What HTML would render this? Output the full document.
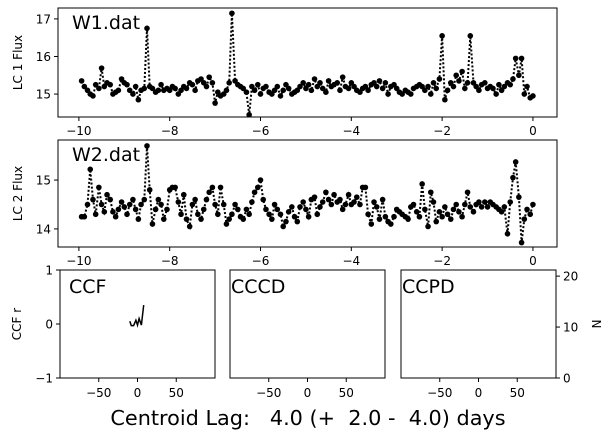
<!DOCTYPE html>
<html><head><meta charset="utf-8">
<style>
body{margin:0;background:#fff;}
svg{display:block;font-family:"DejaVu Sans","Liberation Sans",sans-serif;}
</style></head>
<body>
<svg id="chart" width="612" height="438" viewBox="0 0 612 438" xmlns="http://www.w3.org/2000/svg">
<rect width="612" height="438" fill="#fff"/>
</svg>
<script>
const times = [
-9.94,-9.88,-9.81,-9.75,-9.69,-9.63,-9.56,-9.50,-9.44,-9.38,-9.31,-9.25,-9.19,-9.13,-9.06,-9.00,
-8.94,-8.88,-8.81,-8.75,-8.69,-8.63,-8.56,-8.50,-8.44,-8.38,-8.31,-8.25,-8.19,-8.13,-8.06,-8.00,
-7.94,-7.88,-7.81,-7.75,-7.69,-7.63,-7.56,-7.50,-7.44,-7.38,-7.31,-7.25,-7.19,-7.13,-7.06,-7.00,
-6.94,-6.88,-6.81,-6.75,-6.69,-6.63,-6.56,-6.50,-6.44,-6.38,-6.31,-6.25,-6.19,-6.13,-6.06,-6.00,
-5.94,-5.88,-5.81,-5.75,-5.69,-5.63,-5.56,-5.50,-5.44,-5.38,-5.31,-5.25,-5.19,-5.13,-5.06,-5.00,
-4.94,-4.88,-4.81,-4.75,-4.69,-4.63,-4.56,-4.50,-4.44,-4.38,-4.31,-4.25,-4.19,-4.13,-4.06,-4.00,
-3.94,-3.88,-3.81,-3.75,-3.69,-3.63,-3.56,-3.50,-3.44,-3.38,-3.31,-3.25,-3.19,-3.13,-3.06,-3.00,
-2.94,-2.88,-2.81,-2.75,-2.69,-2.63,-2.56,-2.50,-2.44,-2.38,-2.31,-2.25,-2.19,-2.13,-2.06,-2.00,
-1.94,-1.88,-1.81,-1.75,-1.69,-1.63,-1.56,-1.50,-1.44,-1.38,-1.31,-1.25,-1.19,-1.13,-1.06,-1.00,
-0.94,-0.88,-0.81,-0.75,-0.69,-0.63,-0.56,-0.50,-0.44,-0.38,-0.31,-0.25,-0.19,-0.13,-0.06,0.00];
const flux1 = [
15.35,15.2,15.1,15.0,14.95,15.25,15.15,15.69,15.2,15.3,15.25,15.0,15.05,15.1,15.4,15.3,
15.25,15.1,15.0,15.2,14.85,15.1,15.15,16.75,15.2,15.15,15.05,15.1,15.25,15.1,15.15,15.1,
15.2,15.15,15.0,15.1,15.2,15.15,15.3,15.25,15.1,15.35,15.4,15.3,15.2,15.45,15.3,14.76,
15.05,14.95,15.0,15.1,15.3,17.15,15.35,15.25,15.2,15.15,15.05,14.45,15.2,15.1,15.25,15.0,
15.15,15.2,15.05,15.0,15.1,15.2,14.95,15.1,15.25,15.15,15.0,15.05,15.1,15.2,15.3,15.15,
15.25,15.1,15.4,15.2,15.3,15.15,15.05,15.35,15.2,15.25,15.3,15.1,15.45,15.2,15.15,15.3,
15.2,15.1,15.05,15.15,15.2,15.1,15.25,15.3,15.2,15.35,15.15,15.3,15.0,15.2,15.25,15.15,
15.05,15.0,15.1,15.05,15.0,15.15,15.2,15.25,15.2,15.1,15.2,15.0,15.3,15.15,15.4,16.55,
14.85,15.1,15.3,15.2,15.5,15.35,15.6,15.15,15.3,16.55,15.3,15.2,15.1,15.25,15.3,15.15,
15.2,15.15,15.0,15.25,15.1,15.2,15.3,15.25,15.4,15.95,15.5,15.95,15.0,15.2,14.9,14.95];
const flux2 = [
14.25,14.25,14.5,15.22,14.6,14.3,14.85,14.5,14.35,14.7,14.6,14.35,14.25,14.4,14.55,14.45,
14.3,14.5,14.6,14.4,14.2,14.5,14.6,15.7,14.8,14.1,14.4,14.6,14.5,14.2,14.4,14.8,
14.85,14.85,14.55,14.3,14.7,14.2,14.05,14.5,14.6,14.3,14.2,14.4,14.6,14.75,14.85,14.5,
14.3,14.85,14.5,14.1,14.2,14.3,14.5,14.4,14.25,14.2,14.4,14.3,14.55,14.75,14.85,15.0,
14.6,14.4,14.3,14.2,14.5,14.4,14.3,14.05,14.15,14.35,14.45,14.25,14.15,14.45,14.55,14.4,
14.25,14.6,14.65,14.3,14.45,14.55,14.75,14.6,14.5,14.7,14.55,14.6,14.4,14.5,14.7,14.5,
14.55,14.65,14.5,14.85,14.85,14.3,14.1,14.55,14.45,14.2,14.6,14.25,14.15,14.1,14.25,14.4,
14.35,14.3,14.25,14.2,14.45,14.5,14.35,14.25,14.92,14.4,14.05,14.75,14.55,14.15,14.35,14.25,
14.45,14.3,14.2,14.4,14.5,14.35,14.25,14.5,14.75,14.45,14.35,14.5,14.55,14.45,14.55,14.45,
14.55,14.5,14.45,14.4,14.35,14.45,13.9,14.55,15.05,15.37,14.65,13.72,14.2,14.4,14.3,14.5];
const timeTicks = [-10,-8,-6,-4,-2,0];
const flux1Ticks = [15,16,17];
const flux2Ticks = [14,15];
const ccfLags = [-10,-8,-5,-2,0,2,5,8];
const ccfR = [0.05,-0.03,-0.03,0.07,-0.02,0.1,-0.02,0.35];
const lagTicks = [-50,0,50];
const ccfTicks = [1,0,-1];
const nTicks = [0,10,20];

const NS='http://www.w3.org/2000/svg';
const svg=document.getElementById('chart');
function mk(tag,attrs,parent){const e=document.createElementNS(NS,tag);for(const k in attrs)e.setAttribute(k,attrs[k]);(parent||svg).appendChild(e);return e;}
function lin(d0,d1,r0,r1){return v=>r0+(v-d0)*(r1-r0)/(d1-d0);}
function fmt(v){return v<0?'\u2212'+Math.abs(v):String(v);}

function lcPanel(name,top,bot,ymin,ymax,flux,yt,ylab,title){
  const L=58,R=557;
  const g=mk('g',{});
  
  
  const x=lin(-10.46,0.53,L,R), y=lin(ymin,ymax,bot,top);
  let d='';
  times.forEach((t,i)=>{d+=(i?'L':'M')+x(t).toFixed(1)+' '+y(flux[i]).toFixed(1);});
  const ln=mk('path',{d:d,fill:'none',stroke:'#000','stroke-width':2,'stroke-dasharray':'2,2'},g);
  
  
  times.forEach((t,i)=>{
    const c=mk('circle',{cx:x(t),cy:y(flux[i]),r:2.8,fill:'#000'},g);
    
    
  });
  const fr=mk('rect',{x:L,y:top,width:R-L,height:bot-top,fill:'none',stroke:'#000','stroke-width':1},g);
  
  
  timeTicks.forEach(v=>{
    mk('line',{x1:x(v),x2:x(v),y1:bot,y2:bot+4,stroke:'#000'},g);
    const t=mk('text',{x:x(v),y:bot+18,'font-size':12,'text-anchor':'middle'},g);
    t.textContent=fmt(v);
    
    
  });
  yt.forEach(v=>{
    mk('line',{x1:L-4,x2:L,y1:y(v),y2:y(v),stroke:'#000'},g);
    const t=mk('text',{x:L-7,y:y(v)+4.5,'font-size':12,'text-anchor':'end'},g);
    t.textContent=v;
    
    
  });
  const yl=mk('text',{x:0,y:0,'font-size':12,'text-anchor':'middle',transform:`translate(22,${(top+bot)/2}) rotate(-90)`},g);
  yl.textContent=ylab;
  
  
  const tt=mk('text',{x:72,y:top+21,'font-size':19},g);
  tt.textContent=title;
  
  
}
lcPanel('w1-panel',8,117,14.39,17.29,flux1,flux1Ticks,'LC 1 Flux','W1.dat');
lcPanel('w2-panel',140,247,13.63,15.82,flux2,flux2Ticks,'LC 2 Flux','W2.dat');

function smallPanel(name,L,label){
  const R=L+155,top=270,bot=378;
  const g=mk('g',{});
  
  
  const x=lin(-100,100,L,R);
  const fr=mk('rect',{x:L,y:top,width:155,height:bot-top,fill:'none',stroke:'#000'},g);
  
  
  lagTicks.forEach(v=>{
    mk('line',{x1:x(v),x2:x(v),y1:bot,y2:bot+4,stroke:'#000'},g);
    const t=mk('text',{x:x(v),y:bot+19,'font-size':12,'text-anchor':'middle'},g);
    t.textContent=fmt(v);
    
    
  });
  const tt=mk('text',{x:L+9,y:top+23,'font-size':19},g);
  tt.textContent=label;
  
  
  return {g,x,top,bot};
}
const ccf=smallPanel('ccf-panel',60,'CCF');
const ry=lin(-1,1,378,270);
ccfTicks.forEach(v=>{
  mk('line',{x1:56,x2:60,y1:ry(v),y2:ry(v),stroke:'#000'});
  const t=mk('text',{x:53,y:ry(v)+4.5,'font-size':12,'text-anchor':'end'});
  t.textContent=fmt(v);
  
  
});
let cd='';
ccfLags.forEach((l,i)=>{cd+=(i?'L':'M')+ccf.x(l).toFixed(1)+' '+ry(ccfR[i]).toFixed(1);});
const ccfLine=mk('path',{d:cd,fill:'none',stroke:'#000','stroke-width':1.5},ccf.g);


const ccfY=mk('text',{x:0,y:0,'font-size':12,'text-anchor':'middle',transform:'translate(21,324) rotate(-90)'});
ccfY.textContent='CCF r';



smallPanel('cccd-panel',230,'CCCD').g.querySelector('text:last-child').setAttribute('x',231);
const ccpd=smallPanel('ccpd-panel',401,'CCPD');
ccpd.g.querySelector('text:last-child').setAttribute('x',402);
const ny=lin(0,21.2,378,270);
nTicks.forEach(v=>{
  mk('line',{x1:556,x2:560,y1:ny(v),y2:ny(v),stroke:'#000'});
  const t=mk('text',{x:563,y:ny(v)+4.5,'font-size':12,'text-anchor':'start'});
  t.textContent=v;
  
  
});
const nl=mk('text',{x:0,y:0,'font-size':12,'text-anchor':'middle',transform:'translate(592,324) rotate(90)'});
nl.textContent='N';



const cl=mk('text',{x:308,y:425,'font-size':20.8,'text-anchor':'middle','xml:space':'preserve',style:'white-space:pre'});
cl.textContent='Centroid Lag:   4.0 (+  2.0 -  4.0) days';


</script>
</body></html>
